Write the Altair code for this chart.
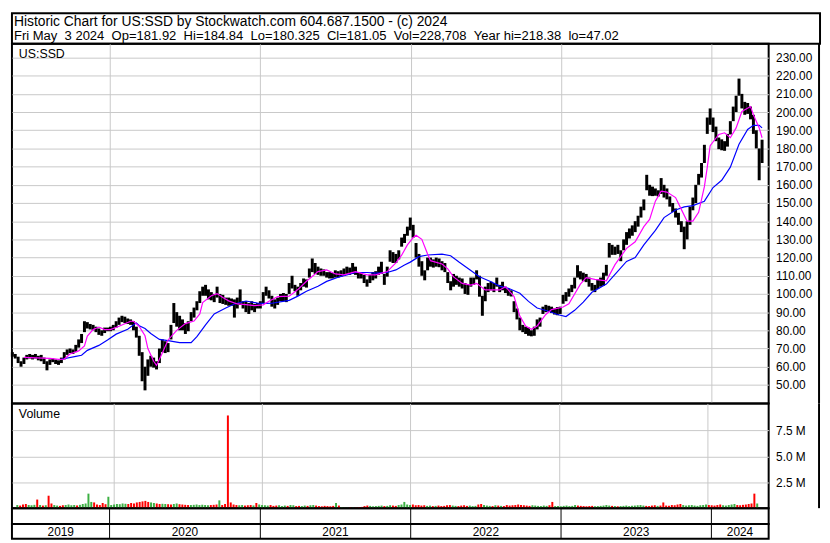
import altair as alt
import pandas as pd

# ---------------- data ----------------
TITLE_LINE_1 = "Historic Chart for US:SSD by Stockwatch.com 604.687.1500 - (c) 2024"
TITLE_LINE_2 = ("Fri May\u00a0\u00a03 2024\u00a0\u00a0Op=181.92\u00a0\u00a0Hi=184.84\u00a0\u00a0Lo=180.325"
                "\u00a0\u00a0Cl=181.05\u00a0\u00a0Vol=228,708\u00a0\u00a0Year hi=218.38\u00a0\u00a0lo=47.02")
SYMBOL = "US:SSD"

# weekly high / low (one bar per week, from 2019-05-10 to 2024-05-03)
highs = [68, 67, 65.5, 63, 65, 66.5, 67, 66.5, 67, 66, 66.5, 65, 63, 64, 64.5, 64, 63.5, 65, 68, 69.5,
         70, 69.5, 72, 75, 78, 85, 84.5, 83.5, 83, 82, 81, 80, 81.5, 81.5,
         82, 83, 85, 87, 88, 87.5, 86.5, 86, 85, 82, 77, 68, 60, 64, 66, 65, 63, 70, 75, 74, 73, 83,
         95, 90, 88, 86, 84, 85, 90, 92.5, 96, 101.5, 104, 105, 102.5, 101, 100, 104, 100, 99.5, 98,
         98, 97.5, 97, 98, 102.5, 96, 96, 95, 96, 94.5, 95,
         96, 101, 104, 102, 99, 97, 98, 100, 100.5, 100, 106, 110, 105, 104, 106, 108.5, 108, 114,
         119.5, 117, 115, 114, 113.5, 112, 112, 111.5, 113, 112.5, 113, 114, 115, 114.5, 117, 115, 112,
         111.5, 110.5, 108, 110.5, 112, 112.5, 115, 117.7, 111, 115, 124, 123, 122, 124, 131, 133, 137,
         142, 138, 128, 122, 118, 113, 120, 120, 119, 120, 119.5, 118, 117, 112, 107, 111, 110, 109,
         108.5, 106, 105, 109, 109, 113, 110, 99, 104, 106, 106.7, 106, 109, 105, 106.7, 104, 103, 102,
         96, 92, 87, 83, 82, 81.5, 80, 82, 86, 87, 93, 94, 93.5, 93, 92, 92.8,
         93, 99.5, 101, 103, 105, 109, 115.8, 112.5, 111.7, 111, 109, 106, 105, 108, 109, 111.7, 116,
         128, 127, 126, 127, 124, 130, 134, 136, 137.7, 140, 143, 148, 152, 165.5, 160, 159, 158, 157,
         163.7, 160, 158, 153.6, 150, 147, 144.6, 140, 137, 140, 148, 153, 160, 166, 172, 182, 197,
         202, 197, 192, 186, 185, 184, 188, 195, 203, 209, 218.4, 210, 205.6, 205, 203, 198.5, 190, 180,
         184.8]
lows = [65.5, 64.5, 62, 60, 61.5, 64, 64.5, 64, 64.5, 63.5, 63, 61.5, 58, 61, 62.5, 61.5, 61, 62, 64, 66.5,
        67.5, 67, 68, 70.5, 73, 79, 81, 80.5, 80, 79, 77.5, 77, 78.5, 79.5,
        79.5, 80, 81.5, 83, 84.5, 84, 83.5, 83, 80, 76, 66, 52, 47, 55, 60, 59.5, 58.5, 62, 68, 67.5, 68,
        75, 84, 82, 80, 80, 78, 79.5, 85, 87, 91, 95, 99, 99, 97, 96.5, 95.5, 98, 95, 94.5, 94, 93.5,
        93.5, 87, 92, 94, 92, 90, 89, 91, 90, 92,
        92, 95, 99, 97.5, 93, 92, 94, 96, 96, 95.5, 100, 103, 101.5, 99, 102, 104, 103.5, 109, 112, 111,
        110.5, 110, 110, 109, 108.5, 108.5, 109, 109, 109.5, 110, 111, 110.5, 111, 110.5, 108.5, 108.5,
        106, 104, 106, 107.5, 108.5, 110.5, 111, 105, 109.5, 117.7, 117, 117, 119, 126, 128, 132,
        135, 131, 120, 115, 110, 107.5, 113, 115, 114.5, 115, 114.7, 113, 112, 106, 102, 104, 105, 104,
        103, 100, 99.5, 104, 105, 108, 98.5, 88, 96, 101, 102, 101, 104, 101, 102, 100.5, 99, 98.6, 90,
        86, 80, 79, 78, 77, 76.7, 77, 80.5, 82, 89, 90, 90.5, 89.5, 88.7, 88.3,
        89, 94.6, 96, 98.5, 101, 103, 109, 108, 107, 106.5, 104, 101.8, 101, 102.7, 104, 104.5, 110,
        120, 121.5, 121.5, 122, 118, 124, 127, 130.5, 132, 134, 137, 142, 146, 157, 154, 153.8, 154,
        153.6, 155, 153, 152, 148, 145, 142, 138, 134, 124.6, 130, 138, 146, 150, 160, 164, 172, 188,
        193, 189, 184, 179.6, 179, 178.7, 181, 187.7, 195, 200, 209, 202, 198.5, 199, 196, 188, 180,
        162.5, 172]

# daily-volume level shown for each week, in millions of shares
volumes_m = [0.30, 0.25, 0.35, 0.40, 0.30, 0.28, 0.32, 0.83, 0.30, 0.25, 0.28, 1.20, 0.45, 0.30, 0.25,
             0.22, 0.28, 0.30, 0.35, 0.28, 0.30, 0.26, 0.32, 0.40, 0.45, 1.40, 0.60, 0.55, 0.35, 0.30,
             0.50, 0.38, 1.10, 0.30,
             0.35, 0.40, 0.38, 0.45, 0.42, 0.40, 0.50, 0.45, 0.55, 0.60, 0.65, 0.70, 0.60, 0.55, 0.50,
             0.45, 0.40, 0.42, 0.40, 0.38, 0.35, 0.40, 0.45, 0.38, 0.35, 0.32, 0.30, 0.30, 0.32, 0.35,
             0.30, 0.33, 0.30, 0.28, 0.30, 0.32, 0.35, 0.75, 0.30, 0.40, 8.94, 0.55, 0.35, 0.30, 0.28,
             0.30, 0.25, 0.28, 0.30, 0.26, 0.50, 0.35,
             0.30, 0.28, 0.25, 0.30, 0.22, 0.25, 0.28, 0.20, 0.25, 0.22, 0.30, 0.28, 0.20, 0.22, 0.20,
             0.25, 0.22, 0.28, 0.30, 0.25, 0.20, 0.18, 0.22, 0.20, 0.18, 0.22, 0.50, 0.25, 0.10, 0.06,
             0.05, 0.08, 0.05, 0.06, 0.10, 0.12, 0.20, 0.25, 0.22, 0.18, 0.20, 0.22, 0.25, 0.20, 0.22,
             0.28, 0.25, 0.22, 0.30, 0.35, 0.60, 0.35,
             0.30, 0.35, 0.28, 0.30, 0.25, 0.28, 0.22, 0.25, 0.20, 0.22, 0.25, 0.20, 0.22, 0.28, 0.30,
             0.25, 0.22, 0.20, 0.25, 0.28, 0.22, 0.25, 0.20, 0.22, 0.35, 0.40, 0.30, 0.25, 0.22, 0.20,
             0.28, 0.25, 0.22, 0.20, 0.30, 0.25, 0.28, 0.30, 0.35, 0.30, 0.28, 0.25, 0.22, 0.28, 0.25,
             0.22, 0.20, 0.25, 0.22, 0.28, 0.60, 0.20,
             0.20, 0.18, 0.22, 0.25, 0.20, 0.22, 0.30, 0.25, 0.22, 0.20, 0.18, 0.20, 0.22, 0.18, 0.20,
             0.22, 0.25, 0.30, 0.25, 0.22, 0.20, 0.18, 0.20, 0.22, 0.25, 0.20, 0.22, 0.25, 0.28, 0.30,
             0.25, 0.22, 0.20, 0.25, 0.28, 0.22, 0.25, 0.55, 0.25, 0.22, 0.30, 0.28, 0.35, 0.40, 0.30,
             0.25, 0.28, 0.30, 0.25, 0.22, 0.28, 0.30,
             0.35, 0.30, 0.28, 0.25, 0.30, 0.35, 0.28, 0.25, 0.30, 0.35, 0.40, 0.30, 0.28, 0.32, 0.35,
             0.40, 0.45, 1.40, 0.45]

# short moving average (magenta): week index -> value
magenta_weeks = [4, 6, 13, 16, 18, 20, 23, 25, 26, 28, 30, 32, 34, 37, 41, 42, 44, 46, 47, 49, 50, 52,
                 54, 57, 60, 63, 65, 66, 69, 71, 73, 75, 78, 81, 84, 87, 89, 92, 96, 99, 102, 106, 109,
                 112, 115, 119, 123, 126, 130, 133, 135, 137, 139, 140, 142, 144, 145, 149, 151, 153,
                 156, 159, 161, 164, 166, 169, 171, 174, 176, 178, 180, 182, 185, 187, 191, 193, 197,
                 199, 202, 206, 209, 213, 216, 219, 221, 223, 225, 227, 230, 232, 234, 236, 238, 240,
                 241, 242, 245, 247, 249, 251, 253, 256, 257, 259, 260]
magenta_values = [65.1, 65, 64.6, 64, 64.2, 67, 68.7, 71.4, 76.8, 80.4, 81.8, 80.4, 80.4, 82.2, 85, 85,
                  82.2, 77, 70, 63, 60.7, 67.5, 74.7, 80, 83.7, 85.1, 89, 95.3, 99, 100.2, 98, 96.2,
                  94.5, 94.1, 93.6, 94, 96, 98.5, 98.8, 102.4, 107, 112.3, 113.2, 111, 110.5, 112.3,
                  110.5, 110.5, 112.3, 117.1, 121.3, 127, 131, 132.3, 130, 122, 118.3, 116.5, 113.8,
                  109.4, 105.8, 104.9, 105.8, 102.2, 102.2, 102.2, 104, 98.6, 87.8, 82.4, 80.6, 82.4,
                  88.7, 91.4, 92.8, 94.6, 105.4, 109, 108, 107.2, 116.1, 125.1, 128.7, 137, 141, 151,
                  156.5, 156, 153, 146.5, 140, 140, 144.9, 159, 169.7, 181.5, 187.7, 188.6, 185.9,
                  191.3, 200.3, 203, 198.5, 191.3, 185.9]

# long moving average (blue): week index -> value
blue_weeks = [17, 22, 24, 26, 30, 33, 36, 40, 42, 43, 44, 46, 48, 51, 54, 58, 62, 64, 67, 70, 74, 77, 81,
              85, 88, 90, 96, 99, 102, 106, 109, 113, 116, 119, 123, 126, 130, 133, 136, 138, 141, 144,
              149, 152, 155, 159, 162, 166, 169, 172, 176, 179, 182, 186, 189, 192, 195, 198, 201, 206,
              209, 213, 216, 219, 223, 226, 230, 233, 236, 240, 243, 246, 249, 252, 255, 257, 259, 260]
blue_values = [64.1, 65.7, 66.3, 69, 71.7, 74.7, 77.9, 80.6, 83, 84, 82.5, 81, 78.3, 75, 74.3, 73.2,
               73.2, 76.5, 83, 89, 92.3, 94.5, 96.1, 95, 94.8, 94.9, 96.5, 98.8, 101.5, 104.2, 106.9,
               109.2, 110.5, 111.8, 111.8, 111.4, 111.8, 113.2, 115.9, 117.5, 120.5, 121.4, 121.9,
               121, 117.4, 112.9, 109.4, 106.7, 104.3, 103.1, 100.4, 95.9, 92.3, 90.5, 88.7, 87.6,
               91, 95.5, 100.9, 105.4, 110.8, 117.9, 120, 127, 135, 142, 146.2, 147.9, 148.6, 151,
               158.5, 162.5, 169.7, 182.3, 190.4, 192.7, 192.7, 191.3]

price_ticks = [50, 60, 70, 80, 90, 100, 110, 120, 130, 140, 150, 160, 170, 180, 190, 200, 210, 220, 230]
volume_ticks = [2500000, 5000000, 7500000]
year_starts = [2020, 2021, 2022, 2023, 2024]
year_labels = ["2019", "2020", "2021", "2022", "2023", "2024"]

# ---------------- tables ----------------
week_dates = pd.date_range("2019-05-10", periods=len(highs), freq="W-FRI")
price_df = pd.DataFrame({"date": week_dates, "high": highs, "low": lows})
mids = [(h + l) for h, l in zip(highs, lows)]
direction = ["up"] + ["up" if mids[i] >= mids[i - 1] else "down" for i in range(1, len(mids))]
volume_df = pd.DataFrame({"date": week_dates, "vol": [v * 1e6 for v in volumes_m], "dir": direction})
magenta_df = pd.DataFrame({"date": week_dates[magenta_weeks], "value": magenta_values})
blue_df = pd.DataFrame({"date": week_dates[blue_weeks], "value": blue_values})

DOMAIN_START = pd.Timestamp("2019-05-09")
DOMAIN_END = pd.Timestamp("2024-05-19")
bounds = [DOMAIN_START] + [pd.Timestamp(f"{y}-01-01") for y in year_starts] + [DOMAIN_END]
year_df = pd.DataFrame({"start": [pd.Timestamp(f"{y}-01-01") for y in year_starts]})
label_df = pd.DataFrame({
    "label": year_labels,
    "mid": [bounds[i] + (bounds[i + 1] - bounds[i]) / 2 for i in range(len(year_labels))],
})

# ---------------- layout ----------------
FONT = "Liberation Sans"
W = 766
AX = 52
HH = 31
PH = 364
VH = 106
SH = 16
YH = 15
GRID = "#c8c8c8"

x_scale = alt.Scale(domain=[alt.DateTime(year=2019, month=5, date=9),
                            alt.DateTime(year=2024, month=5, date=19)])
x_enc = alt.X("date:T", scale=x_scale,
              axis=alt.Axis(values=[alt.DateTime(year=y, month=1, date=1) for y in year_starts],
                            labels=False, ticks=False, domain=False, grid=True,
                            gridColor=GRID, gridWidth=1, title=None))

py_scale = alt.Scale(domain=[39.8, 237.5], nice=False, zero=False)
py_axis = alt.Axis(orient="right", values=price_ticks, format=".2f", grid=True, gridColor=GRID,
                   ticks=False, domain=False, labelPadding=7, title=None)

one = pd.DataFrame({"k": [0]})

# header
header = alt.layer(
    alt.Chart(one).mark_text(align="left", baseline="alphabetic", font=FONT, fontSize=14,
                             color="black", text=TITLE_LINE_1).encode(x=alt.value(2), y=alt.value(12.5)),
    alt.Chart(one).mark_text(align="left", baseline="alphabetic", font=FONT, fontSize=13.2,
                             color="black", text=TITLE_LINE_2).encode(x=alt.value(2), y=alt.value(27.5)),
).properties(width=W + AX, height=HH)

# price panel
bars = alt.Chart(price_df).mark_rule(color="black", strokeWidth=3).encode(
    x=x_enc, y=alt.Y("low:Q", scale=py_scale, axis=py_axis), y2="high:Q")
ma_short = alt.Chart(magenta_df).mark_line(color="#ff00ff", strokeWidth=1.2).encode(
    x=x_enc, y=alt.Y("value:Q", scale=py_scale, axis=py_axis))
ma_long = alt.Chart(blue_df).mark_line(color="#0000ff", strokeWidth=1.2).encode(
    x=x_enc, y=alt.Y("value:Q", scale=py_scale, axis=py_axis))
sym = alt.Chart(one).mark_text(align="left", baseline="top", font=FONT, fontSize=12.5,
                               color="black", text=SYMBOL).encode(x=alt.value(7), y=alt.value(4))
price_edge = alt.Chart(one).mark_rule(color="black", strokeWidth=2).encode(
    x=alt.value(W + AX - 1), y=alt.value(0), y2=alt.value(PH))
price = alt.layer(bars, ma_long, ma_short, sym, price_edge).properties(width=W, height=PH)

# volume panel
vy_scale = alt.Scale(domain=[0, 10100000], nice=False)
vy_axis = alt.Axis(orient="right", values=volume_ticks, grid=True, gridColor=GRID, ticks=False,
                   domain=False, labelPadding=7, title=None,
                   labelExpr="format(datum.value / 1000000, '.1f') + ' M'")
vbars = alt.Chart(volume_df).mark_bar(size=2).encode(
    x=x_enc, y=alt.Y("vol:Q", scale=vy_scale, axis=vy_axis),
    color=alt.Color("dir:N", scale=alt.Scale(domain=["up", "down"], range=["#3cb043", "#ff0000"]),
                    legend=None))
vlabel = alt.Chart(one).mark_text(align="left", baseline="top", font=FONT, fontSize=12.5,
                                  color="black", text="Volume").encode(x=alt.value(7), y=alt.value(5))
vol_edge = alt.Chart(one).mark_rule(color="black", strokeWidth=2).encode(
    x=alt.value(W + AX - 1), y=alt.value(0), y2=alt.value(VH))
volume = alt.layer(vbars, vlabel, vol_edge).properties(width=W, height=VH)

# empty strip with year separators
strip = alt.Chart(year_df).mark_rule(color="black", strokeWidth=1).encode(
    x=alt.X("start:T", scale=x_scale, axis=None)).properties(width=W, height=SH)

# year labels row
year_rules = alt.Chart(year_df).mark_rule(color="black", strokeWidth=1).encode(
    x=alt.X("start:T", scale=x_scale, axis=None))
year_text = alt.Chart(label_df).mark_text(font=FONT, fontSize=12, color="black",
                                          baseline="middle").encode(
    x=alt.X("mid:T", scale=x_scale, axis=None), y=alt.value(YH / 2 + 1), text="label:N")
years = alt.layer(year_rules, year_text).properties(width=W, height=YH)

chart = alt.vconcat(header, price, volume, strip, years, spacing=0, bounds="flush").properties(
    padding={"left": 1, "top": 1, "right": 1, "bottom": 1},
    background="white",
).configure_view(stroke="black", strokeWidth=2).configure_axis(
    labelFont=FONT, labelFontSize=12, labelColor="#000000"
).configure_concat(spacing=0)

chart.save("out.html", embed_options={"renderer": "svg", "actions": False})
